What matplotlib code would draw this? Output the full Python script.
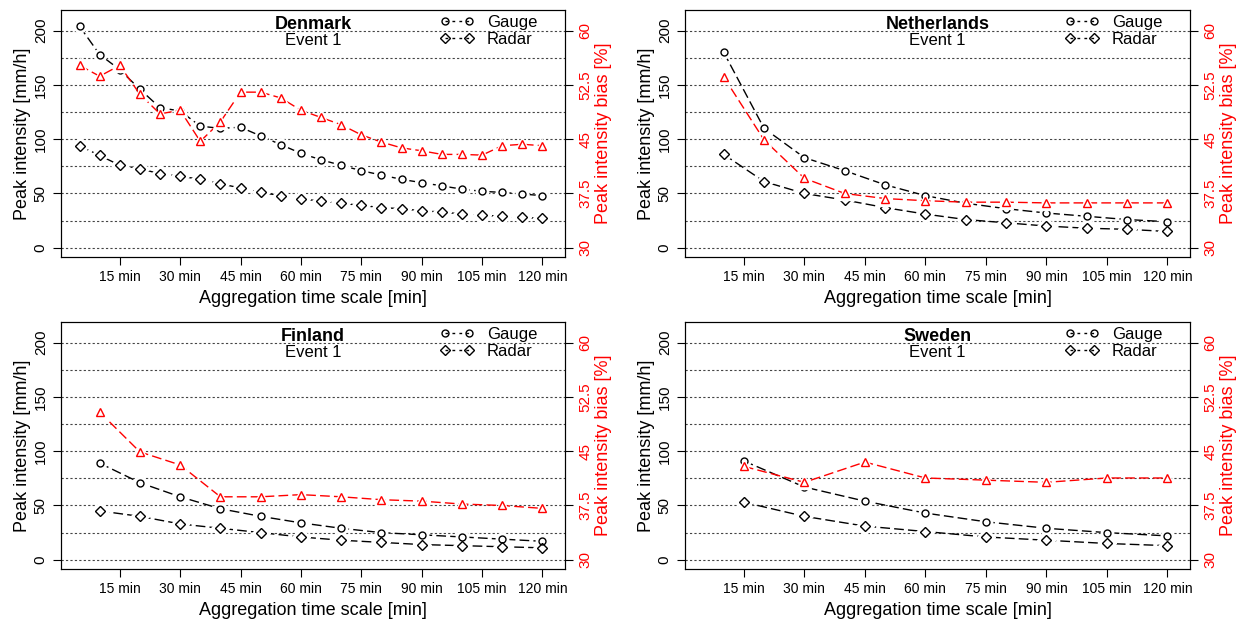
import matplotlib
matplotlib.use("Agg")
import matplotlib.pyplot as plt
from matplotlib.lines import Line2D

plt.rcParams['font.family'] = ['Liberation Sans', 'DejaVu Sans']

dk_x = list(range(5, 121, 5))
dk_gauge = [204,178,164,146,129,126,112,110,111,103,95,87,81,76,71,67,63,60,57,54,52,51,49.5,48]
dk_radar = [94,85,76,73,68,66,63,59,55,51,48,45,43,41,39,37,36,34,33,31,30,29,28,27]
dk_bias = [55.2,53.7,55.2,51.2,48.5,49.0,44.7,47.4,51.5,51.5,50.7,49.0,48.0,47.0,45.6,44.6,43.8,43.4,42.9,42.9,42.8,44.1,44.3,44.1]

nl_x = list(range(10, 121, 10))
nl_gauge = [180,110,83,71,58,48,41,36,32,29,26,24]
nl_radar = [86,61,50,44,37,31,26,23,20,18,17,15]
nl_bias = [53.6,44.9,39.6,37.5,36.8,36.5,36.3,36.3,36.2,36.2,36.2,36.2]

fi_x = list(range(10, 121, 10))
fi_gauge = [89,71,58,47,40,34,29,25,23,21,19,17]
fi_radar = [45,40,33,29,25,21,18,16,14,13,12,11]
fi_bias = [50.4,44.9,43.1,38.7,38.7,39.0,38.7,38.3,38.1,37.7,37.5,37.1]

se_x = list(range(15, 121, 15))
se_gauge = [91,67,54,43,35,29,25,22]
se_radar = [53,40,31,26,21,18,15,13]
se_bias = [42.9,40.7,43.5,41.3,41.0,40.7,41.3,41.3]

xticks = [15,30,45,60,75,90,105,120]
xticklabels = [f"{t} min" for t in xticks]
yticks = [0,50,100,150,200]
rticks = [30,37.5,45,52.5,60]
rticklabels = ["30","37.5","45","52.5","60"]

W, H = 1242, 623
panels = [
    ("Denmark", dk_x, dk_gauge, dk_radar, dk_bias, [61/W, 1-257/H, 504/W, 247/H]),
    ("Netherlands", nl_x, nl_gauge, nl_radar, nl_bias, [685/W, 1-257/H, 505/W, 247/H]),
    ("Finland", fi_x, fi_gauge, fi_radar, fi_bias, [61/W, 1-569/H, 504/W, 247/H]),
    ("Sweden", se_x, se_gauge, se_radar, se_bias, [685/W, 1-569/H, 505/W, 247/H]),
]

fig = plt.figure(figsize=(12.42, 6.23), dpi=100)
ls = (0, (7, 3))

def series(ax, x, y, marker, color, z, ms=5):
    ax.plot(x, y, color=color, lw=1, ls=ls, zorder=z)
    ax.plot(x, y, ls='none', marker=marker, ms=ms+4, mfc='white', mec='white', zorder=z+0.1)
    ax.plot(x, y, ls='none', marker=marker, ms=ms, mfc='none', mec=color, mew=1, zorder=z+0.2)

for name, x, g, r, b, rect in panels:
    ax = fig.add_axes(rect)
    ax.set_xlim(0.4, 125.6)
    ax.set_ylim(-8.5, 219)
    for yv in range(0, 201, 25):
        ax.axhline(yv, color='#444444', lw=0.8, ls=(0, (2, 2)), zorder=1)
    series(ax, x, g, 'o', 'black', 3)
    series(ax, x, r, 'D', 'black', 3)
    ax.set_xticks(xticks)
    ax.set_xticklabels(xticklabels, fontsize=10)
    ax.set_yticks(yticks)
    ax.set_yticklabels([str(v) for v in yticks], fontsize=11, rotation=90, va='center')
    ax.set_xlabel("Aggregation time scale [min]", fontsize=13)
    ax.set_ylabel("Peak intensity [mm/h]", fontsize=13, labelpad=2)
    ax.tick_params(length=6)
    ax2 = ax.twinx()
    ax2.set_ylim(30 + (-8.5)*0.15, 30 + 219*0.15)
    series(ax2, x, b, '^', 'red', 4, ms=6)
    ax2.set_yticks(rticks)
    ax2.set_yticklabels(rticklabels, fontsize=11, rotation=90, va='center', color='red')
    ax2.tick_params(length=6)
    ax2.set_ylabel("Peak intensity bias [%]", fontsize=13, color='red', labelpad=2)
    ax.text(0.5, 0.975, name, transform=ax.transAxes, ha='center', va='top', fontsize=13, fontweight='bold')
    ax.text(0.5, 0.905, "Event 1", transform=ax.transAxes, ha='center', va='top', fontsize=12)
    handles = [Line2D([0], [0], color='black', lw=1, ls=(0, (2, 3)), marker='o', ms=5, mfc='none'),
               Line2D([0], [0], color='black', lw=1, ls=(0, (2, 3)), marker='D', ms=5, mfc='none')]
    ax.legend(handles, ["Gauge", "Radar"], loc='upper right', bbox_to_anchor=(0.975, 1.04),
              frameon=False, numpoints=2, fontsize=12, handlelength=2.0, handletextpad=0.8,
              labelspacing=0.1)

fig.savefig("out.png", dpi=100)
